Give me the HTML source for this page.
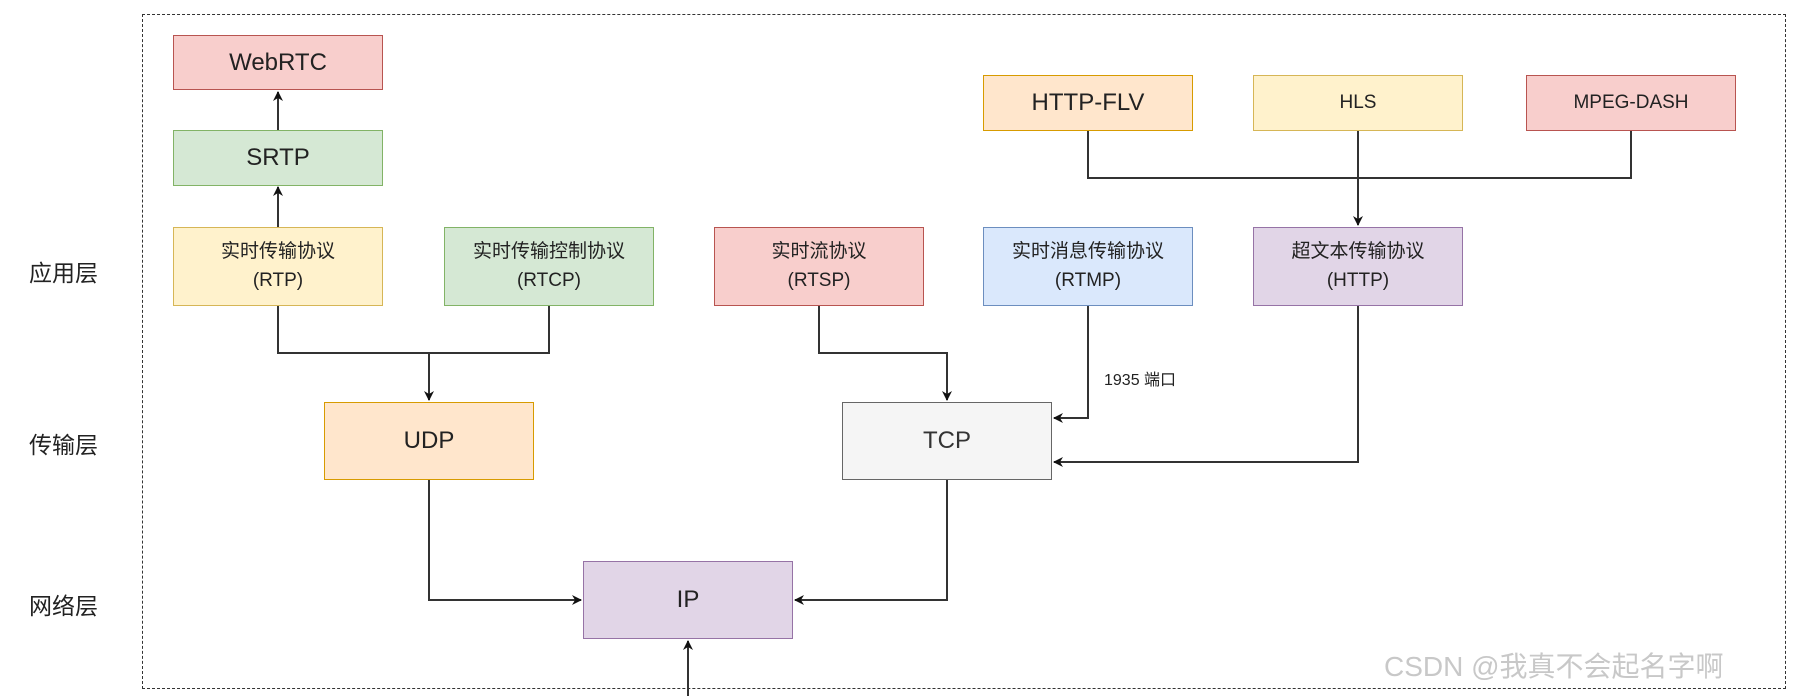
<!DOCTYPE html>
<html><head><meta charset="utf-8"><style>
body{margin:0;width:1809px;height:696px;background:#fff;overflow:hidden;position:relative;font-family:"Liberation Sans","Noto Sans CJK SC",sans-serif;color:#222}
.b{position:absolute;box-sizing:border-box;border:1.5px solid;display:flex;align-items:center;justify-content:center;text-align:center;line-height:1.5}
.r{background:#f8cecc;border-color:#b85450}.g{background:#d5e8d4;border-color:#82b366}.y{background:#fff2cc;border-color:#d6b656}
.o{background:#ffe6cc;border-color:#d79b00}.bl{background:#dae8fc;border-color:#6c8ebf}.p{background:#e1d5e7;border-color:#9673a6}.gr{background:#f5f5f5;border-color:#666}
.t{position:absolute;font-size:23px}
</style></head><body>
<div style="position:absolute;left:142px;top:14px;width:1644px;height:675px;border:1.5px dashed #333;box-sizing:border-box"></div>
<div class="t" style="left:29px;top:254px">应用层</div>
<div class="t" style="left:29px;top:426px">传输层</div>
<div class="t" style="left:29px;top:587px">网络层</div>
<svg width="1809" height="696" style="position:absolute;left:0;top:0">
<defs><marker id="a" markerWidth="10" markerHeight="10" refX="9" refY="5" orient="auto" markerUnits="userSpaceOnUse"><path d="M0,0 L10,5 L0,10 L3,5z" fill="#111"/></marker></defs>
<g stroke="#333" stroke-width="2" fill="none">
<path d="M278,130 V92" marker-end="url(#a)"/>
<path d="M278,227 V187" marker-end="url(#a)"/>
<path d="M278,306 V353 H549 V306"/>
<path d="M429,353 V400" marker-end="url(#a)"/>
<path d="M819,306 V353 H947 V400" marker-end="url(#a)"/>
<path d="M1088,306 V418 H1054" marker-end="url(#a)"/>
<path d="M1358,306 V462 H1054" marker-end="url(#a)"/>
<path d="M1088,130 V178 H1631 V130"/>
<path d="M1358,130 V225" marker-end="url(#a)"/>
<path d="M429,480 V600 H581" marker-end="url(#a)"/>
<path d="M947,480 V600 H795" marker-end="url(#a)"/>
<path d="M688,696 V641" marker-end="url(#a)"/>
</g></svg>
<div class="b r" style="left:173px;top:35px;width:210px;height:55px;font-size:24px">WebRTC</div>
<div class="b g" style="left:173px;top:130px;width:210px;height:56px;font-size:24px">SRTP</div>
<div class="b y" style="left:173px;top:227px;width:210px;height:79px;font-size:19px">实时传输协议<br>(RTP)</div>
<div class="b g" style="left:444px;top:227px;width:210px;height:79px;font-size:19px">实时传输控制协议<br>(RTCP)</div>
<div class="b r" style="left:714px;top:227px;width:210px;height:79px;font-size:19px">实时流协议<br>(RTSP)</div>
<div class="b bl" style="left:983px;top:227px;width:210px;height:79px;font-size:19px">实时消息传输协议<br>(RTMP)</div>
<div class="b p" style="left:1253px;top:227px;width:210px;height:79px;font-size:19px">超文本传输协议<br>(HTTP)</div>
<div class="b o" style="left:983px;top:75px;width:210px;height:56px;font-size:24px">HTTP-FLV</div>
<div class="b y" style="left:1253px;top:75px;width:210px;height:56px;font-size:19px">HLS</div>
<div class="b r" style="left:1526px;top:75px;width:210px;height:56px;font-size:19px">MPEG-DASH</div>
<div class="b o" style="left:324px;top:402px;width:210px;height:78px;font-size:24px">UDP</div>
<div class="b gr" style="left:842px;top:402px;width:210px;height:78px;font-size:24px;color:#333">TCP</div>
<div class="b p" style="left:583px;top:561px;width:210px;height:78px;font-size:24px">IP</div>
<div style="position:absolute;left:1104px;top:366px;font-size:16px">1935 端口</div>
<div style="position:absolute;left:1384px;top:645px;font-size:28px;color:#c8c8c8">CSDN @我真不会起名字啊</div>
</body></html>
